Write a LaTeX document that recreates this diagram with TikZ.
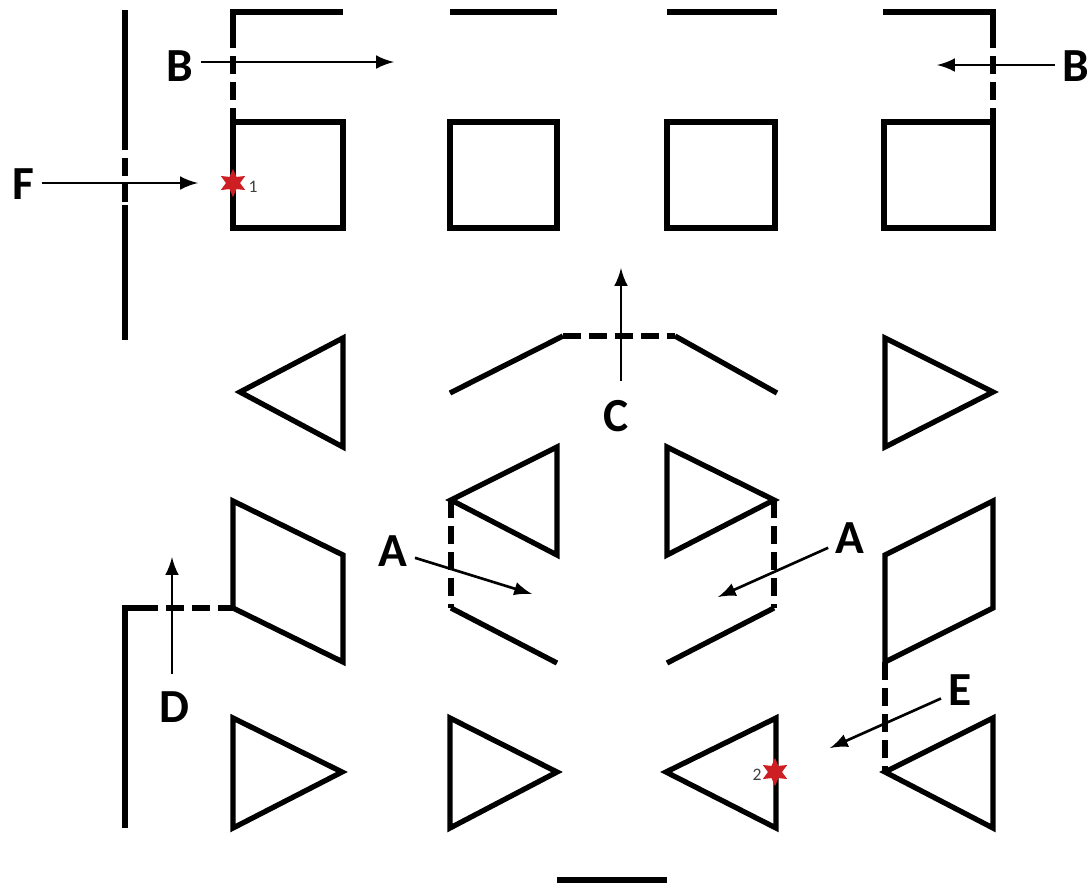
\documentclass[tikz,border=0pt]{standalone}
\usepackage{fontspec}
\setsansfont{Carlito}
\usetikzlibrary{shapes}
\usetikzlibrary{shapes.geometric}
\definecolor{pinred}{RGB}{205,30,35}

\begin{document}
\begin{tikzpicture}[x=0.01cm, y=-0.01cm, >=latex,
		wall/.style={line width=1.5pt, line join=miter},
		gap/.style={wall, dash pattern=on 5pt off 2.4pt},
		ray/.style={->, line width=0.75pt, shorten <=1pt},
		lbl/.style={font=\fontsize{13.5}{16}\selectfont\sffamily\bfseries, inner sep=1pt},
		num/.style={font=\fontsize{5}{6}\selectfont\sffamily, text=black!75, inner sep=0pt},
		pin/.style={star, star points=6, star point ratio=2, fill=pinred, inner sep=0pt, minimum size=8pt}]
				\useasboundingbox (0,0) rectangle (1090,887);
				\draw[wall] (343,12) -- (233,12) -- (233,30);\draw[gap] (233,30) -- (233,122);
				\draw[wall] (450,12) -- (557,12);\draw[wall] (667,12) -- (777,12);
				\draw[wall] (883,12) -- (993,12) -- (993,30);\draw[gap] (993,30) -- (993,122);
				\draw[wall] (125,10) -- (125,132);\draw[gap] (125,132) -- (125,205);\draw[wall] (125,205) -- (125,340);
				\draw[wall] (233,122) rectangle (343,228);\draw[wall] (450,122) rectangle (557,228);
				\draw[wall] (667,122) rectangle (775,228);\draw[wall] (884,122) rectangle (993,228);
				\draw[wall] (343,338) -- (240,392) -- (343,447) -- cycle;
				\draw[wall] (885,338) -- (993,392) -- (885,447) -- cycle;
				\draw[wall] (450,393) -- (563,336);\draw[gap] (563,336) -- (675,336);\draw[wall] (675,336) -- (777,393);
				\draw[wall] (233,501) -- (343,555) -- (343,662) -- (233,608) -- cycle;
				\draw[wall] (993,501) -- (885,555) -- (885,662) -- (993,608) -- cycle;
				\draw[wall] (557,447) -- (451,500) -- (557,555) -- cycle;
				\draw[wall] (667,447) -- (774,500) -- (667,555) -- cycle;
				\draw[gap] (451,500) -- (451,608);\draw[wall] (451,608) -- (557,663);
				\draw[gap] (774,500) -- (774,608);\draw[wall] (774,608) -- (667,663);
				\draw[wall] (125,828) -- (125,608) -- (140,608);\draw[gap] (140,608) -- (233,608);
				\draw[gap] (885,662) -- (885,772);
				\draw[wall] (233,718) -- (342,772) -- (233,828) -- cycle;
				\draw[wall] (450,718) -- (557,772) -- (450,828) -- cycle;
				\draw[wall] (776,718) -- (666,772) -- (776,828) -- cycle;
				\draw[wall] (993,718) -- (885,772) -- (993,828) -- cycle;
				\draw[wall] (557,880) -- (667,880);
				\node[lbl] (B1) at (180,66) {B};
				\node[lbl] (B2) at (1076,66) {B};
				\node[lbl] (F) at (23,184) {F};
				\node[lbl] (C) at (616,416) {C};
				\node[lbl] (A1) at (393,551) {A};
				\node[lbl] (A2) at (850,538) {A};
				\node[lbl] (D) at (174,707) {D};
				\node[lbl] (E) at (960,690) {E};
				\coordinate (b1) at (394,62);\coordinate (b2) at (937,65);\coordinate (f) at (198,183);
				\coordinate (c) at (621,268);\coordinate (a1) at (532,594);\coordinate (a2) at (718,597);
				\coordinate (d) at (172,557);\coordinate (e) at (830,748);
				\draw[ray] (B1.east |- b1) -- (b1);\draw[ray] (B2.west |- b2) -- (b2);\draw[ray] (F.east |- f) -- (f);
				\draw[ray] (C.north -| c) ++(0,-12) -- (c);
				\draw[ray] (A1) -- (a1);\draw[ray] (A2) -- (a2);
				\draw[ray] (D.north -| d) ++(0,-10) -- (d);
				\draw[ray] (E) -- (e);
				\node[pin] (s1) at (233,183) {};\node[num] (n1) at (253,187) {1};
				\node[pin] (s2) at (775,772) {};\node[num] (n2) at (757,775) {2};
\end{tikzpicture}
\end{document}
